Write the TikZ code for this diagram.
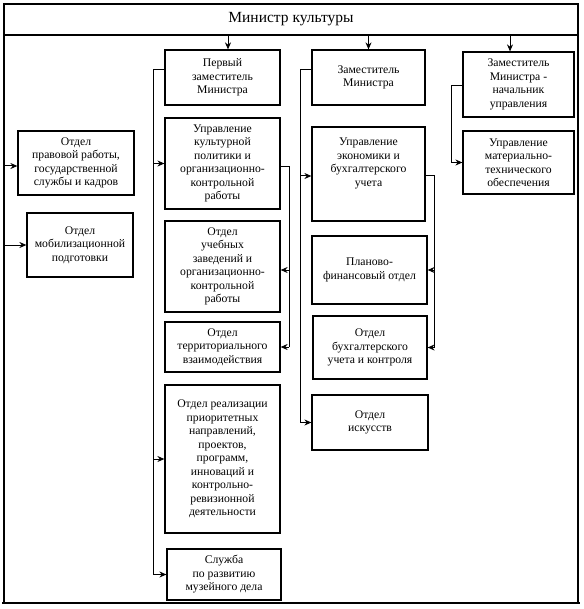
\documentclass[tikz,border=0pt]{standalone}
\usepackage{fontspec}
\setmainfont{Liberation Serif}
\usetikzlibrary{arrows.meta}
\begin{document}
\begin{tikzpicture}[x=1pt,y=-1pt,
  box/.style={draw, line width=1.2pt, align=center, inner sep=0pt,
    font=\fontsize{11.7}{13.5}\selectfont},
  conn/.style={line width=1pt},
  arr/.style={line width=1pt, -{Stealth[length=7pt,width=6pt]}}]
\useasboundingbox (0,0) rectangle (583,609);
% frame
\draw[line width=1.3pt] (4,603) -- (4,4) -- (578,4) -- (578,603);
\draw[line width=2.5pt] (2,603) -- (580,603);
\node[box, minimum width=574, minimum height=31, font=\fontsize{15.5}{18}\selectfont] (min) at (291,19.5) {Министр культуры};
\coordinate (fl) at (4,0);
% deputies
\node[box, minimum width=115, minimum height=55] (p1) at (222.5,77.5) {Первый\\заместитель\\Министра};
\node[box, minimum width=113, minimum height=55] (z) at (368.5,77.5) {Заместитель\\Министра};
\node[box, minimum width=111, minimum height=65] (zn) at (518.5,84.5) {Заместитель\\Министра -\\начальник\\управления};
% left column
\node[box, minimum width=116, minimum height=64] (opr) at (76,163) {Отдел\\правовой работы,\\государственной\\службы и кадров};
\node[box, minimum width=106, minimum height=64] (omp) at (80,245) {Отдел\\мобилизационной\\подготовки};
% first deputy column
\node[box, minimum width=115, minimum height=91] (ukp) at (222.5,163.5) {Управление\\культурной\\политики и\\организационно-\\контрольной\\работы};
\node[box, minimum width=115, minimum height=91] (ouz) at (222.5,266.5) {Отдел\\учебных\\заведений и\\организационно-\\контрольной\\работы};
\node[box, minimum width=115, minimum height=50] (otv) at (222.5,347) {Отдел\\территориального\\взаимодействия};
\node[box, minimum width=115, minimum height=148] (orp) at (222.5,459) {Отдел реализации\\приоритетных\\направлений,\\проектов,\\программ,\\инноваций и\\контрольно-\\ревизионной\\деятельности};
\node[box, minimum width=114, minimum height=51] (sl) at (224,574.5) {Служба\\по развитию\\музейного дела};
% deputy column
\node[box, minimum width=113, minimum height=94] (ue) at (368.5,174) {Управление\\экономики и\\бухгалтерского\\учета\\[10pt]};
\node[box, minimum width=115, minimum height=68] (pf) at (369.5,270) {Планово-\\финансовый отдел};
\node[box, minimum width=114, minimum height=63] (obu) at (370,347.5) {Отдел\\бухгалтерского\\учета и контроля};
\node[box, minimum width=116, minimum height=55] (oi) at (370,422.5) {Отдел\\искусств};
% right column
\node[box, minimum width=111, minimum height=63] (umt) at (518.5,162.5) {Управление\\материально-\\технического\\обеспечения};
% connectors from minister
\draw[arr] ([xshift=5.5pt]p1.north |- min.south) -- ([xshift=5.5pt]p1.north);
\draw[arr] (z.north |- min.south) -- (z.north);
\draw[arr] ([xshift=-8.5pt]zn.north |- min.south) -- ([xshift=-8.5pt]zn.north);
% left bus (frame edge)
\draw[arr] ([yshift=-3pt]fl |- opr.west) -- ([yshift=-3pt]opr.west);
\draw[arr] (fl |- omp.west) -- (omp.west);
% first deputy bus
\coordinate (bA) at (153,0);
\draw[conn] ([yshift=7.5pt]p1.west) -| (bA |- sl.west);
\draw[arr] (bA |- ukp.west) -- (ukp.west);
\draw[arr] (bA |- orp.west) -- (orp.west);
\draw[arr] (bA |- sl.west) -- (sl.west);
% ukp bus
\coordinate (bB) at (289,0);
\draw[conn] ([yshift=-3.5pt]ukp.east) -| (bB |- otv.east);
\draw[arr] ([yshift=-3.5pt]bB |- ouz.east) -- ([yshift=-3.5pt]ouz.east);
\draw[arr] (bB |- otv.east) -- (otv.east);
% deputy bus
\coordinate (bC) at (300,0);
\draw[conn] ([yshift=7.5pt]z.west) -| (bC |- oi.west);
\draw[arr] ([yshift=-2pt]bC |- ue.west) -- ([yshift=-2pt]ue.west);
\draw[arr] (bC |- oi.west) -- (oi.west);
% ue bus
\coordinate (bD) at (434,0);
\draw[conn] ([yshift=-2pt]ue.east) -| (bD |- obu.east);
\draw[arr] (bD |- pf.east) -- (pf.east);
\draw[arr] (bD |- obu.east) -- (obu.east);
% zn bus
\coordinate (bE) at (451,0);
\draw[conn] ([yshift=-1.5pt]zn.west) -| (bE |- umt.west);
\draw[arr] (bE |- umt.west) -- (umt.west);
\end{tikzpicture}
\end{document}
